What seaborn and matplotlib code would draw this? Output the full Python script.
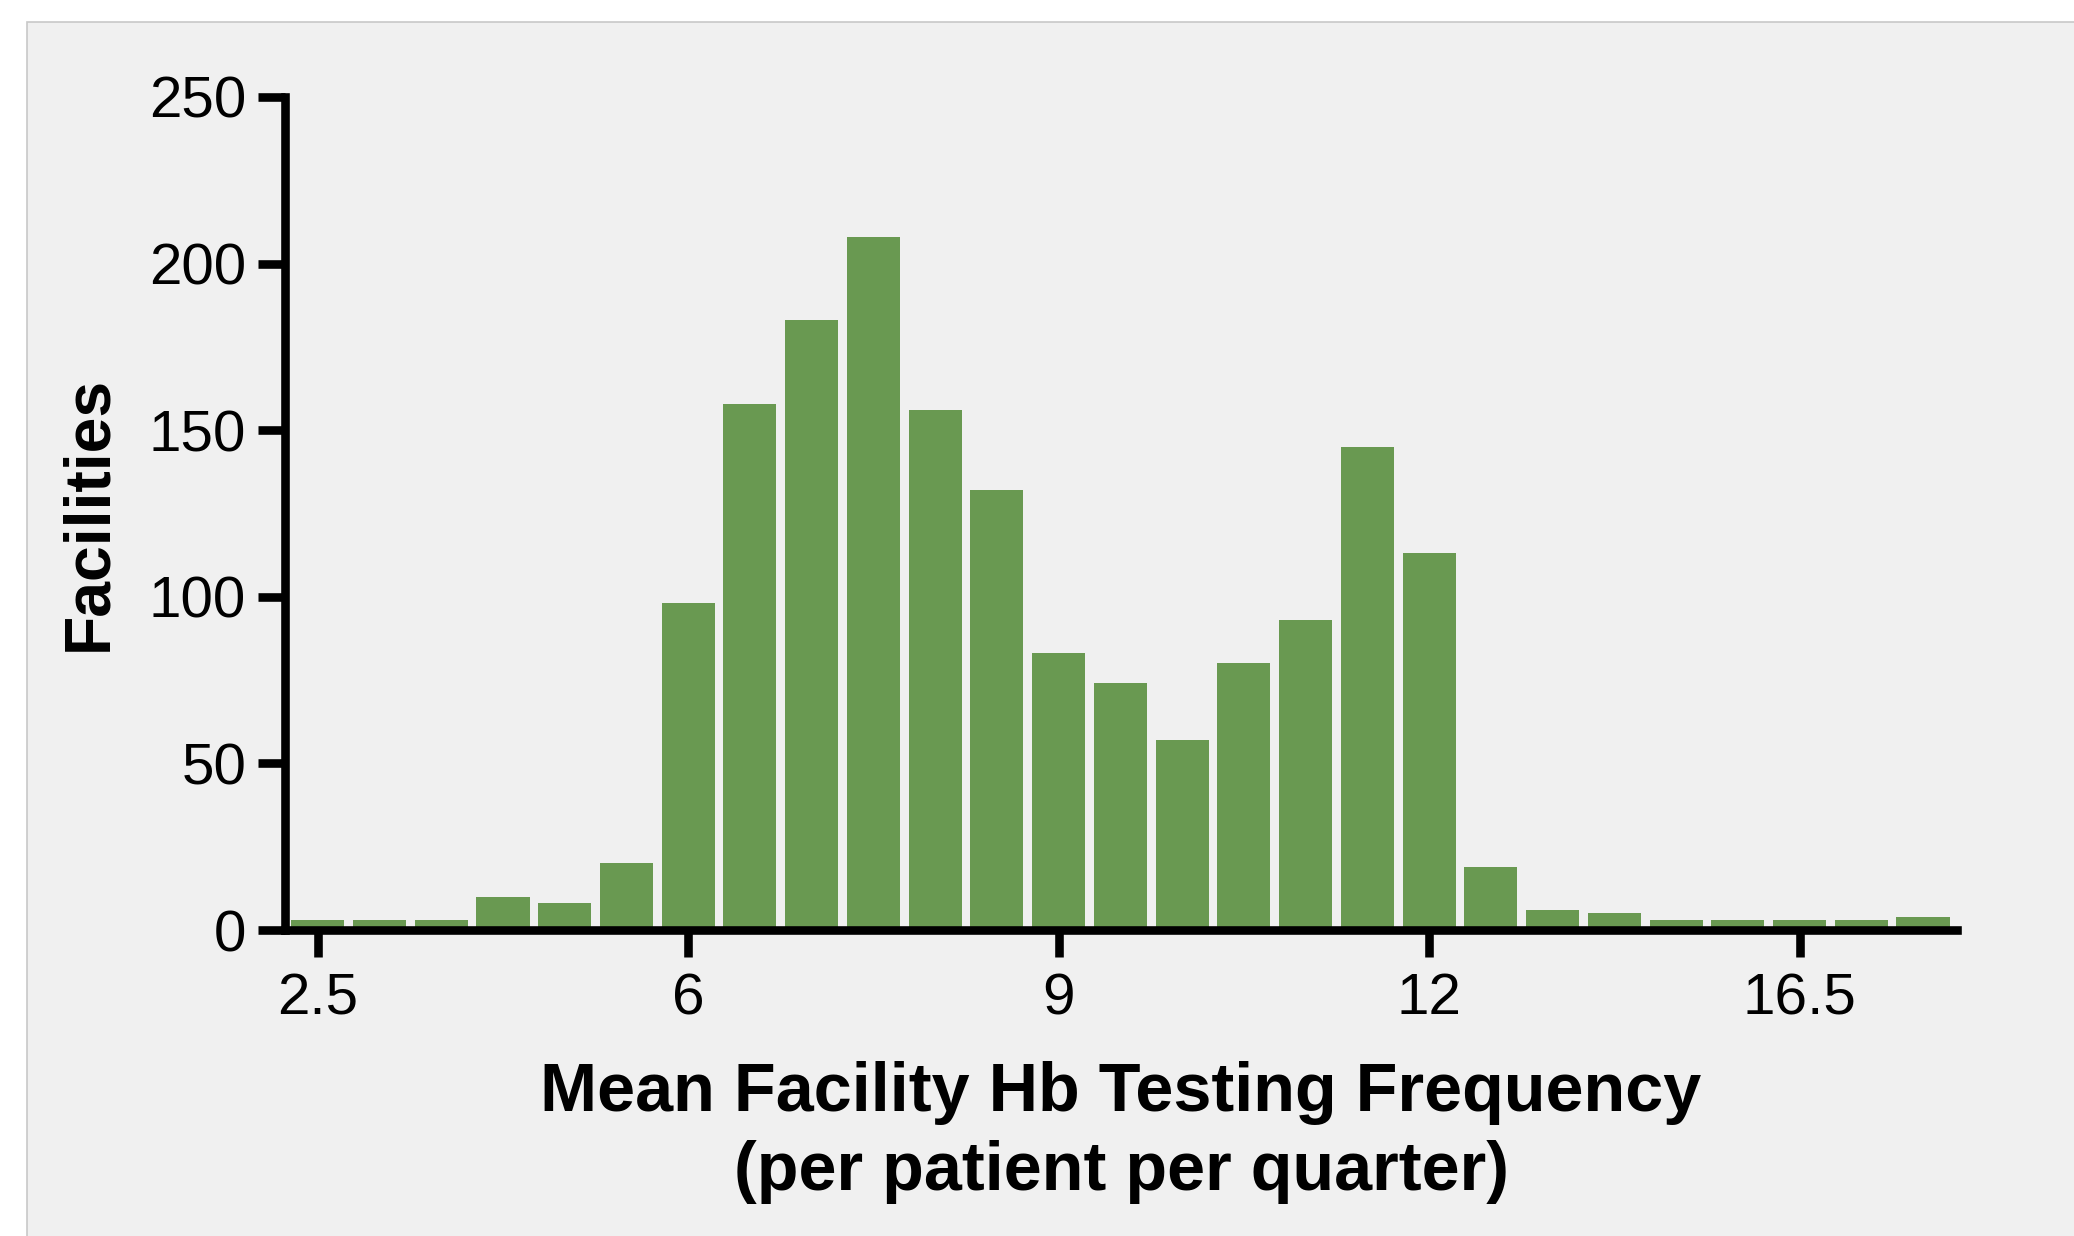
import numpy as np
import pandas as pd
import matplotlib
matplotlib.use("Agg")
import matplotlib.pyplot as plt
import seaborn as sns
from matplotlib.patches import Rectangle

# facilities per bin of mean Hb testing frequency (27 bins)
facilities = [3, 3, 3, 10, 8, 20, 98, 158, 183, 208, 156, 132, 83, 74, 57,
              80, 93, 145, 113, 19, 6, 5, 3, 3, 3, 3, 4]
tick_bins = [0, 6, 12, 18, 24]
tick_labels = ['2.5', '6', '9', '12', '16.5']
y_ticks = [0, 50, 100, 150, 200, 250]

df = pd.DataFrame({'bin': list(range(len(facilities))), 'facilities': facilities})

sns.set_style('white')
plt.rcParams['font.family'] = ['Liberation Sans', 'DejaVu Sans']

W, H, DPI = 2074, 1236, 200
fig = plt.figure(figsize=(W / DPI, H / DPI), dpi=DPI)
fig.patch.set_facecolor('white')

ax = fig.add_axes([285 / W, 1 - 930 / H, (1957 - 285) / W, (930 - 97) / H])
ax.set_facecolor('none')
ax.set_zorder(2)

# grey panel behind the chart
panel = Rectangle((27 / W, -0.01), 1.0, 1 - 22 / H + 0.01,
                  transform=fig.transFigure, facecolor='#f0f0f0',
                  edgecolor='#c8c8c8', linewidth=0.6)
panel.set_zorder(-5)
fig.add_artist(panel)

sns.barplot(data=df, x='bin', y='facilities', color='#699951', saturation=1,
            width=0.86, edgecolor='none', ax=ax)

ax.set_xlim(-0.53, 26.55)
ax.set_ylim(0, 250)
ax.set_xticks(tick_bins)
ax.set_xticklabels(tick_labels)
ax.set_yticks(y_ticks)

for side in ['top', 'right']:
    ax.spines[side].set_visible(False)
for side in ['left', 'bottom']:
    ax.spines[side].set_linewidth(3.1)
    ax.spines[side].set_color('black')
    ax.spines[side].set_capstyle('projecting')

ax.tick_params(axis='both', direction='out', length=9.7, width=3.1,
               bottom=True, left=True, color='black', labelsize=21,
               labelcolor='black')
ax.tick_params(axis='x', pad=5.5)
ax.tick_params(axis='y', pad=4.3)

ax.set_xlabel('Mean Facility Hb Testing Frequency\n(per patient per quarter)',
              fontsize=24.6, fontweight='bold', linespacing=1.3, labelpad=12.5,
              color='black')
ax.set_ylabel('Facilities', fontsize=23.2, fontweight='bold', labelpad=10.5,
              color='black')

fig.savefig('out.png', dpi=DPI)
